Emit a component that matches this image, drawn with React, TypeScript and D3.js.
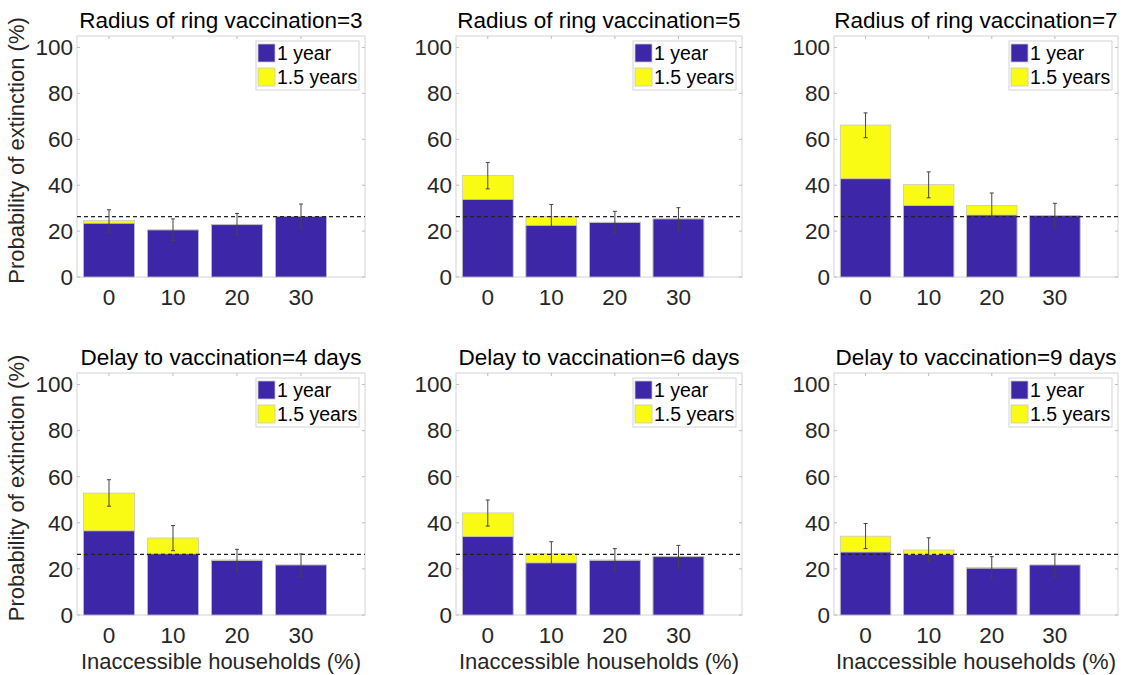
import React, { useEffect, useRef } from 'react';
import * as d3 from 'd3';

// Panel titles, row-major (top row: ring radius, bottom row: delay)
const titles = [
  'Radius of ring vaccination=3',
  'Radius of ring vaccination=5',
  'Radius of ring vaccination=7',
  'Delay to vaccination=4 days',
  'Delay to vaccination=6 days',
  'Delay to vaccination=9 days',
];

const categories = [0, 10, 20, 30];
const yTicks = [0, 20, 40, 60, 80, 100];
const seriesNames = ['1 year', '1.5 years'];

// extinction probability within 1 year (%)
const oneYear = [
  [23.4, 20.5, 22.8, 26.4],
  [33.8, 22.5, 23.7, 25.3],
  [42.8, 31.1, 27.0, 26.7],
  [36.5, 26.5, 23.6, 21.7],
  [34.0, 22.6, 23.7, 25.3],
  [27.3, 26.2, 20.3, 21.7],
];

// extinction probability within 1.5 years (%), the stacked total
const oneHalfYear = [
  [24.6, 20.5, 22.9, 26.4],
  [44.2, 26.3, 23.9, 25.3],
  [66.2, 40.3, 31.2, 26.7],
  [52.9, 33.4, 23.9, 21.7],
  [44.3, 26.6, 23.9, 25.3],
  [34.2, 28.2, 20.6, 21.7],
];

const errLow = [
  [19.5, 15.9, 18.2, 21.4],
  [38.4, 21.4, 19.1, 20.4],
  [60.7, 34.5, 26.0, 21.7],
  [47.2, 27.9, 18.8, 16.8],
  [38.6, 21.7, 19.1, 20.4],
  [28.8, 23.2, 15.8, 16.8],
];

const errHigh = [
  [29.3, 25.3, 27.7, 31.8],
  [49.9, 31.6, 28.6, 30.2],
  [71.5, 45.8, 36.6, 32.1],
  [58.7, 38.8, 28.5, 26.5],
  [49.9, 31.8, 28.8, 30.2],
  [39.7, 33.5, 25.3, 26.5],
];

// reference level without vaccination (dashed line)
const referenceLevel = 26.3;

const xLabel = 'Inaccessible households (%)';
const yLabel = 'Probability of extinction (%)';

const App: React.FC = () => {
  const svgRef = useRef<SVGSVGElement>(null);

  useEffect(() => {
    if (!svgRef.current) return;
    const svg = d3.select(svgRef.current);
    svg.selectAll('*').remove();

    const font = "'Liberation Sans', Arial, Helvetica, sans-serif";
    const blue = '#3e26a8';
    const yellow = '#f9fb15';
    const axisGray = '#d4d4d4';
    const textColor = '#262626';

    const colX = [[77, 365], [456, 742], [834, 1118]];
    const rowY = [[36, 277], [373, 615]];

    titles.forEach((title, i) => {
      const col = i % 3;
      const row = Math.floor(i / 3);
      const [x0, x1] = colX[col];
      const [y0, y1] = rowY[row];

      const xScale = d3.scaleLinear().domain([-5, 40]).range([x0, x1]);
      const yScale = d3.scaleLinear().domain([0, 105]).range([y1, y0]);
      const barW = (xScale(8) - xScale(0));

      const g = svg.append('g');

      // background + box
      g.append('rect')
        .attr('x', x0).attr('y', y0)
        .attr('width', x1 - x0).attr('height', y1 - y0)
        .attr('fill', '#fff')
        .attr('stroke', axisGray)
        .attr('stroke-width', 1);

      // tick marks inside the box
      yTicks.forEach(t => {
        const y = yScale(t);
        g.append('line').attr('x1', x0).attr('x2', x0 + 3).attr('y1', y).attr('y2', y)
          .attr('stroke', '#bdbdbd');
        g.append('line').attr('x1', x1).attr('x2', x1 - 3).attr('y1', y).attr('y2', y)
          .attr('stroke', '#bdbdbd');
        g.append('text')
          .attr('x', x0 - 4).attr('y', y)
          .attr('dy', '0.35em')
          .attr('text-anchor', 'end')
          .attr('font-family', font).attr('font-size', 22.5)
          .attr('fill', textColor)
          .text(t);
      });
      categories.forEach(c => {
        const x = xScale(c);
        g.append('line').attr('x1', x).attr('x2', x).attr('y1', y1).attr('y2', y1 - 3)
          .attr('stroke', '#bdbdbd');
        g.append('line').attr('x1', x).attr('x2', x).attr('y1', y0).attr('y2', y0 + 3)
          .attr('stroke', '#bdbdbd');
        g.append('text')
          .attr('x', x).attr('y', y1 + 28)
          .attr('text-anchor', 'middle')
          .attr('font-family', font).attr('font-size', 22.5)
          .attr('fill', textColor)
          .text(c);
      });

      // stacked bars: yellow total behind, blue 1-year in front
      g.selectAll('.total')
        .data(categories)
        .enter().append('rect')
        .attr('x', d => xScale(d) - barW / 2)
        .attr('y', (d, j) => yScale(oneHalfYear[i][j]))
        .attr('width', barW)
        .attr('height', (d, j) => yScale(0) - yScale(oneHalfYear[i][j]))
        .attr('fill', yellow)
        .attr('stroke', '#c8c8c8')
        .attr('stroke-width', 0.8);

      g.selectAll('.year')
        .data(categories)
        .enter().append('rect')
        .attr('x', d => xScale(d) - barW / 2)
        .attr('y', (d, j) => yScale(oneYear[i][j]))
        .attr('width', barW)
        .attr('height', (d, j) => yScale(0) - yScale(oneYear[i][j]))
        .attr('fill', blue)
        .attr('stroke', '#c8c8c8')
        .attr('stroke-width', 0.8);

      // dashed reference
      g.append('line')
        .attr('x1', x0).attr('x2', x1)
        .attr('y1', yScale(referenceLevel)).attr('y2', yScale(referenceLevel))
        .attr('stroke', '#222')
        .attr('stroke-width', 1.2)
        .attr('stroke-dasharray', '4,3');

      // error bars
      categories.forEach((c, j) => {
        const x = xScale(c);
        const lo = yScale(errLow[i][j]);
        const hi = yScale(errHigh[i][j]);
        g.append('line').attr('x1', x).attr('x2', x).attr('y1', lo).attr('y2', hi)
          .attr('stroke', '#444').attr('stroke-width', 1);
        [lo, hi].forEach(y => {
          g.append('line').attr('x1', x - 2).attr('x2', x + 2).attr('y1', y).attr('y2', y)
            .attr('stroke', '#444').attr('stroke-width', 1);
        });
      });

      // legend
      const lw = 103, lh = 49;
      const lx = x1 - 6 - lw;
      const ly = y0 + 5;
      const lg = g.append('g');
      lg.append('rect')
        .attr('x', lx).attr('y', ly).attr('width', lw).attr('height', lh)
        .attr('fill', '#fff').attr('stroke', axisGray);
      seriesNames.forEach((name, k) => {
        const sy = ly + 3 + k * 24;
        lg.append('rect')
          .attr('x', lx + 2).attr('y', sy).attr('width', 17).attr('height', 18)
          .attr('fill', k === 0 ? blue : yellow)
          .attr('stroke', '#c8c8c8').attr('stroke-width', 0.8);
        lg.append('text')
          .attr('x', lx + 21).attr('y', sy + 9)
          .attr('dy', '0.35em')
          .attr('font-family', font).attr('font-size', 19.5)
          .attr('fill', '#000')
          .text(name);
      });

      // title
      g.append('text')
        .attr('x', (x0 + x1) / 2).attr('y', y0 - 8)
        .attr('text-anchor', 'middle')
        .attr('font-family', font).attr('font-size', 22.5)
        .attr('fill', '#000')
        .text(title);

      // axis labels
      if (col === 0) {
        g.append('text')
          .attr('transform', `translate(${x0 - 53},${(y0 + y1) / 2 - 6}) rotate(-90)`)
          .attr('text-anchor', 'middle')
          .attr('font-family', font).attr('font-size', 22)
          .attr('fill', textColor)
          .text(yLabel);
      }
      if (row === 1) {
        g.append('text')
          .attr('x', (x0 + x1) / 2).attr('y', y1 + 54)
          .attr('text-anchor', 'middle')
          .attr('font-family', font).attr('font-size', 22)
          .attr('fill', textColor)
          .text(xLabel);
      }
    });
  }, []);

  return (
    <svg
      ref={svgRef}
      width={1126}
      height={675}
      style={{ position: 'absolute', left: 0, top: 0, background: '#fff' }}
    />
  );
};

export default App;
